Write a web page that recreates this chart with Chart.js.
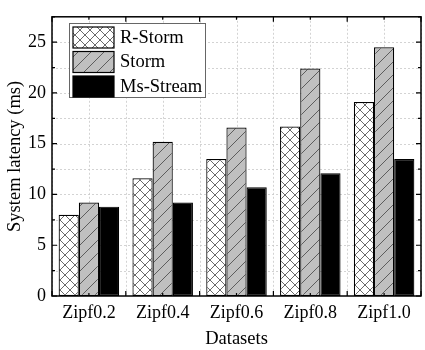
<!DOCTYPE html>
<html>
<head>
<meta charset="utf-8">
<script src="https://cdn.jsdelivr.net/npm/chart.js@4.4.1/dist/chart.umd.min.js"></script>
<style>
  body { margin: 0; background: #fff; }
  #wrap { width: 425px; height: 350px; }
</style>
</head>
<body>
<div id="wrap"><canvas id="chart" width="425" height="350"></canvas></div>
<script>
// values
const categories = ['Zipf0.2', 'Zipf0.4', 'Zipf0.6', 'Zipf0.8', 'Zipf1.0'];
const rStorm = [8.0, 11.6, 13.5, 16.7, 19.1];
const storm = [9.2, 15.2, 16.6, 22.4, 24.5];
const msStream = [8.8, 9.2, 10.7, 12.1, 13.5];
const seriesNames = ['R-Storm', 'Storm', 'Ms-Stream'];
const yTicks = [0, 5, 10, 15, 20, 25];

const FONT = 'Liberation Serif';
const canvas = document.getElementById('chart');
const ctx = canvas.getContext('2d');

// hatch fills
function makePattern(bg, draw, size) {
    const c = document.createElement('canvas');
    c.width = size;
    c.height = size;
    const g = c.getContext('2d');
    g.fillStyle = bg;
    g.fillRect(0, 0, size, size);
    g.strokeStyle = '#444';
    g.lineWidth = 0.8;
    g.beginPath();
    draw(g, size);
    g.stroke();
    return ctx.createPattern(c, 'repeat');
}

const crossFill = makePattern('#ffffff', (g, s) => {
    g.moveTo(0, 0); g.lineTo(s, s);
    g.moveTo(s, 0); g.lineTo(0, s);
}, 10);

const slashFill = makePattern('#c0c0c0', (g, s) => {
    g.moveTo(0, s); g.lineTo(s, 0);
    g.moveTo(-1, 1); g.lineTo(1, -1);
    g.moveTo(s - 1, s + 1); g.lineTo(s + 1, s - 1);
}, 13);

// dashed grid at half categories and every 2.5 on y
const gridPlugin = {
    id: 'grid',
    beforeDatasetsDraw(chart) {
        const { ctx, chartArea: a, scales: { x, y } } = chart;
        ctx.save();
        ctx.strokeStyle = '#c8c8c8';
        ctx.lineWidth = 0.8;
        ctx.setLineDash([2, 2]);
        ctx.beginPath();
        for (let i = -0.5; i <= categories.length - 0.5; i += 0.5) {
            const px = Math.round(x.getPixelForValue(i)) + 0.5;
            ctx.moveTo(px, a.top);
            ctx.lineTo(px, a.bottom);
        }
        for (let v = 2.5; v < y.max; v += 2.5) {
            const py = Math.round(y.getPixelForValue(v)) + 0.5;
            ctx.moveTo(a.left, py);
            ctx.lineTo(a.right, py);
        }
        ctx.stroke();
        ctx.restore();
    }
};

// frame, inward ticks and legend box
const framePlugin = {
    id: 'frame',
    afterDraw(chart) {
        const { ctx, chartArea: a, scales: { x, y } } = chart;
        ctx.save();
        ctx.strokeStyle = '#000';
        ctx.lineWidth = 1.5;
        ctx.strokeRect(a.left, a.top, a.right - a.left, a.bottom - a.top);

        ctx.lineWidth = 1.2;
        ctx.beginPath();
        for (let v = 0; v <= y.max; v += 2.5) {
            const py = y.getPixelForValue(v);
            const len = v % 5 === 0 ? 5 : 3;
            ctx.moveTo(a.left, py); ctx.lineTo(a.left + len, py);
            ctx.moveTo(a.right, py); ctx.lineTo(a.right - len, py);
        }
        for (let i = -0.5; i <= categories.length - 0.5; i += 0.5) {
            const px = x.getPixelForValue(i);
            const len = Number.isInteger(i) ? 3 : 5;
            ctx.moveTo(px, a.top); ctx.lineTo(px, a.top + len);
            ctx.moveTo(px, a.bottom); ctx.lineTo(px, a.bottom - len);
        }
        ctx.stroke();

        // legend
        const lx = 69, ly = 23, lw = 136, lh = 74;
        ctx.fillStyle = '#fff';
        ctx.fillRect(lx, ly, lw, lh);
        ctx.strokeStyle = '#666';
        ctx.lineWidth = 1;
        ctx.strokeRect(lx + 0.5, ly + 0.5, lw, lh);
        ctx.font = '18.5px "' + FONT + '"';
        ctx.textBaseline = 'middle';
        chart.data.datasets.forEach((ds, i) => {
            const ry = ly + 4 + i * 24.5;
            ctx.fillStyle = ds.backgroundColor;
            ctx.fillRect(lx + 4, ry, 41, 21);
            ctx.strokeStyle = '#000';
            ctx.lineWidth = 1.2;
            ctx.strokeRect(lx + 4, ry, 41, 21);
            ctx.fillStyle = '#000';
            ctx.fillText(ds.label, lx + 51, ry + 11);
        });
        ctx.restore();
    }
};

new Chart(ctx, {
    type: 'bar',
    data: {
        labels: categories,
        datasets: [
            { label: seriesNames[0], data: rStorm, backgroundColor: crossFill },
            { label: seriesNames[1], data: storm, backgroundColor: slashFill },
            { label: seriesNames[2], data: msStream, backgroundColor: '#000000' }
        ].map(d => Object.assign(d, {
            borderColor: '#000',
            borderWidth: 1.2,
            borderSkipped: false,
            categoryPercentage: 0.82,
            barPercentage: 1
        }))
    },
    options: {
        responsive: false,
        animation: false,
        layout: { padding: { left: 0, top: 10, right: 4, bottom: 0 } },
        plugins: { legend: { display: false }, tooltip: { enabled: false } },
        scales: {
            x: {
                grid: { display: false, drawTicks: false },
                border: { display: false },
                ticks: { color: '#000', font: { family: FONT, size: 18 }, padding: 6 },
                title: { display: true, text: 'Datasets', color: '#000', font: { family: FONT, size: 18.5 }, padding: { top: 6, bottom: 0 } },
                afterFit(scale) { scale.height = 54; }
            },
            y: {
                min: 0,
                max: 27.5,
                grid: { display: false, drawTicks: false },
                border: { display: false },
                afterBuildTicks(scale) { scale.ticks = yTicks.map(v => ({ value: v })); },
                ticks: { color: '#000', font: { family: FONT, size: 18 }, padding: 6 },
                title: { display: true, text: 'System latency (ms)', color: '#000', font: { family: FONT, size: 18.5 }, padding: { top: 4, bottom: 4 } },
                afterFit(scale) { scale.width = 52; }
            }
        }
    },
    plugins: [gridPlugin, framePlugin]
});
</script>
</body>
</html>
